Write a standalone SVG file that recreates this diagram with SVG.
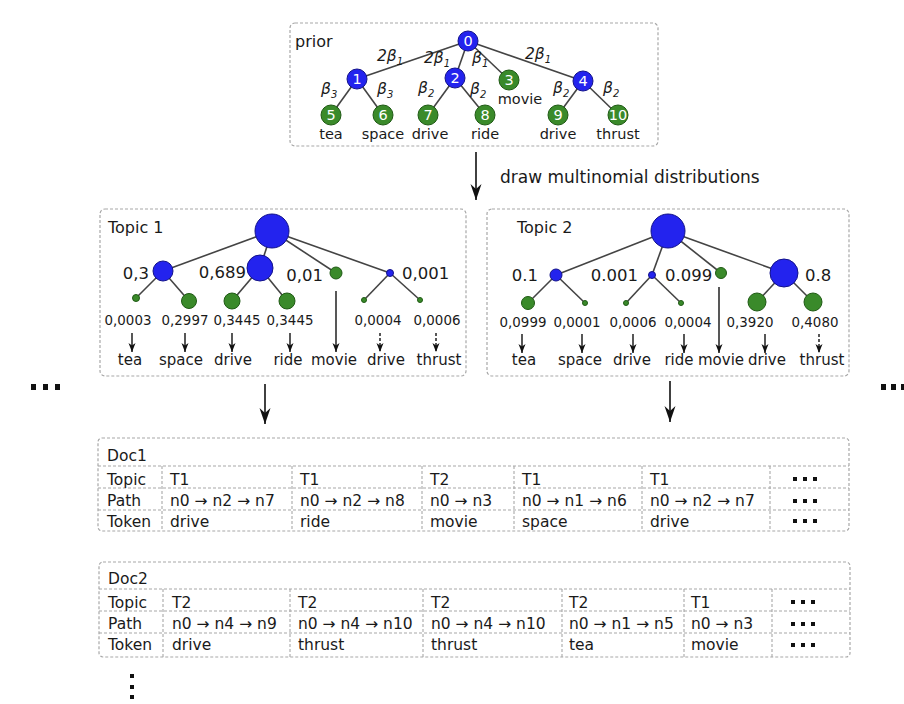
<svg xmlns="http://www.w3.org/2000/svg" width="904" height="704" viewBox="0 0 904 704">
  <defs>
    <style>
      text { font-family: "DejaVu Sans", "Liberation Sans", sans-serif; fill: #1a1a1a; }
      .box { fill: none; stroke: #a8a8a8; stroke-width: 1.2; stroke-dasharray: 3 2; }
      .grid { stroke: #a8a8a8; stroke-width: 1.1; stroke-dasharray: 3 2; fill: none; }
      .edge { stroke: #444; stroke-width: 1.6; fill: none; }
      .blue { fill: #2323ee; stroke: #12128a; stroke-width: 1; }
      .green { fill: #3a8a2a; stroke: #1f5a14; stroke-width: 1; }
      .num { font-size: 14.5px; fill: #fff; text-anchor: middle; }
      .leaf { font-size: 14.5px; text-anchor: middle; }
      .beta { font-size: 15.5px; font-style: italic; }
      .sub { font-size: 10px; }
      .title { font-size: 16px; }
      .w { font-size: 15px; text-anchor: middle; }
      .p { font-size: 13.4px; text-anchor: middle; }
      .val { font-size: 16.5px; }
      .cell { font-size: 15.5px; }
      .arr { stroke: #111; stroke-width: 1.6; fill: none; }
      .arrs { stroke: #111; stroke-width: 1.4; fill: none; }
      .dash { stroke-dasharray: 3 2; }
      .dot { fill: #111; }
    </style>
    <marker id="head" viewBox="-16 -6 16 12" markerWidth="16" markerHeight="12" refX="0" refY="0" orient="auto" markerUnits="userSpaceOnUse">
      <path d="M0,0 L-16,-5.5 L-11,0 L-16,5.5 z" fill="#111"/>
    </marker>
    <marker id="heads" viewBox="-9 -4 9 8" markerWidth="9" markerHeight="8" refX="0" refY="0" orient="auto" markerUnits="userSpaceOnUse">
      <path d="M0,0 L-9,-3.5 L-6.5,0 L-9,3.5 z" fill="#111"/>
    </marker>
  </defs>
  <rect width="904" height="704" fill="#ffffff"/>

  <!-- prior tree -->
  <g id="prior">
    <rect class="box" x="290" y="23" width="368" height="123" rx="5"/>
    <text class="title" x="295" y="47">prior</text>
    <g class="edges">
      <line class="edge" x1="468" y1="41" x2="357" y2="79"/>
      <line class="edge" x1="468" y1="41" x2="455" y2="78"/>
      <line class="edge" x1="468" y1="41" x2="509" y2="80"/>
      <line class="edge" x1="468" y1="41" x2="583" y2="81"/>
      <line class="edge" x1="357" y1="79" x2="331" y2="115"/>
      <line class="edge" x1="357" y1="79" x2="383" y2="115"/>
      <line class="edge" x1="455" y1="78" x2="428" y2="115"/>
      <line class="edge" x1="455" y1="78" x2="485" y2="115"/>
      <line class="edge" x1="583" y1="81" x2="558" y2="115"/>
      <line class="edge" x1="583" y1="81" x2="618" y2="115"/>
    </g>
    <text class="beta" x="377" y="61">2β<tspan class="sub" dy="4">1</tspan></text>
    <text class="beta" x="424" y="63">2β<tspan class="sub" dy="4">1</tspan></text>
    <text class="beta" x="472" y="63">β<tspan class="sub" dy="4">1</tspan></text>
    <text class="beta" x="525" y="59">2β<tspan class="sub" dy="4">1</tspan></text>
    <text class="beta" x="321" y="94">β<tspan class="sub" dy="4">3</tspan></text>
    <text class="beta" x="377" y="94">β<tspan class="sub" dy="4">3</tspan></text>
    <text class="beta" x="418" y="93">β<tspan class="sub" dy="4">2</tspan></text>
    <text class="beta" x="470" y="94">β<tspan class="sub" dy="4">2</tspan></text>
    <text class="beta" x="553" y="93">β<tspan class="sub" dy="4">2</tspan></text>
    <text class="beta" x="603" y="93">β<tspan class="sub" dy="4">2</tspan></text>
    <circle class="blue" cx="468" cy="41" r="10"/><text class="num" x="468" y="46">0</text>
    <circle class="blue" cx="357" cy="79" r="10"/><text class="num" x="357" y="84">1</text>
    <circle class="blue" cx="455" cy="78" r="10"/><text class="num" x="455" y="83">2</text>
    <circle class="green" cx="509" cy="80" r="10"/><text class="num" x="509" y="85">3</text>
    <circle class="blue" cx="583" cy="81" r="10"/><text class="num" x="583" y="86">4</text>
    <circle class="green" cx="331" cy="115" r="10"/><text class="num" x="331" y="120">5</text>
    <circle class="green" cx="383" cy="115" r="10"/><text class="num" x="383" y="120">6</text>
    <circle class="green" cx="428" cy="115" r="10"/><text class="num" x="428" y="120">7</text>
    <circle class="green" cx="485" cy="115" r="10"/><text class="num" x="485" y="120">8</text>
    <circle class="green" cx="558" cy="115" r="10"/><text class="num" x="558" y="120">9</text>
    <circle class="green" cx="618" cy="115" r="10"/><text class="num" x="618" y="120">10</text>
    <text class="leaf" x="520" y="104">movie</text>
    <text class="leaf" x="331" y="139">tea</text>
    <text class="leaf" x="383" y="139">space</text>
    <text class="leaf" x="430" y="139">drive</text>
    <text class="leaf" x="485" y="139">ride</text>
    <text class="leaf" x="558" y="139">drive</text>
    <text class="leaf" x="618" y="139">thrust</text>
  </g>

  <!-- topic 1 -->
  <g id="topic1">
    <rect class="box" x="100" y="209" width="366" height="167" rx="5"/>
    <text class="title" x="108" y="233">Topic 1</text>
    <line class="edge" x1="272" y1="231" x2="163" y2="271"/>
    <line class="edge" x1="272" y1="231" x2="260" y2="268"/>
    <line class="edge" x1="272" y1="231" x2="336" y2="273"/>
    <line class="edge" x1="272" y1="231" x2="390" y2="273"/>
    <line class="edge" x1="163" y1="271" x2="136" y2="298"/>
    <line class="edge" x1="163" y1="271" x2="189" y2="301"/>
    <line class="edge" x1="260" y1="268" x2="232" y2="301"/>
    <line class="edge" x1="260" y1="268" x2="287" y2="301"/>
    <line class="edge" x1="390" y1="273" x2="364" y2="300"/>
    <line class="edge" x1="390" y1="273" x2="420" y2="300"/>
    <circle class="blue" cx="272" cy="231" r="17"/>
    <circle class="blue" cx="163" cy="271" r="10"/>
    <circle class="blue" cx="260" cy="268" r="13"/>
    <circle class="green" cx="336" cy="273" r="6"/>
    <circle class="blue" cx="390" cy="273" r="3.5"/>
    <circle class="green" cx="136" cy="298" r="3.5"/>
    <circle class="green" cx="189" cy="301" r="7.5"/>
    <circle class="green" cx="232" cy="301" r="8"/>
    <circle class="green" cx="287" cy="301" r="8"/>
    <circle class="green" cx="364" cy="300" r="2.5"/>
    <circle class="green" cx="420" cy="300" r="2.5"/>
    <text class="val" x="149" y="279" text-anchor="end">0,3</text>
    <text class="val" x="246" y="278" text-anchor="end">0,689</text>
    <text class="val" x="323" y="281" text-anchor="end">0,01</text>
    <text class="val" x="402" y="279">0,001</text>
    <text class="p" x="128" y="325">0,0003</text>
    <text class="p" x="185" y="325">0,2997</text>
    <text class="p" x="237" y="325">0,3445</text>
    <text class="p" x="290" y="325">0,3445</text>
    <text class="p" x="378" y="325">0,0004</text>
    <text class="p" x="437" y="325">0,0006</text>
    <line class="arrs" x1="132" y1="333" x2="132" y2="352" marker-end="url(#heads)"/>
    <line class="arrs" x1="185" y1="333" x2="185" y2="352" marker-end="url(#heads)"/>
    <line class="arrs" x1="232" y1="333" x2="232" y2="352" marker-end="url(#heads)"/>
    <line class="arrs" x1="290" y1="333" x2="290" y2="352" marker-end="url(#heads)"/>
    <line class="arrs" x1="336" y1="291" x2="336" y2="352" marker-end="url(#heads)"/>
    <line class="arrs dash" x1="380" y1="333" x2="380" y2="352" marker-end="url(#heads)"/>
    <line class="arrs dash" x1="436" y1="333" x2="436" y2="352" marker-end="url(#heads)"/>
    <text class="w" x="130" y="365">tea</text>
    <text class="w" x="181" y="365">space</text>
    <text class="w" x="233" y="365">drive</text>
    <text class="w" x="288" y="365">ride</text>
    <text class="w" x="334" y="365">movie</text>
    <text class="w" x="386" y="365">drive</text>
    <text class="w" x="439" y="365">thrust</text>
  </g>

  <!-- topic 2 -->
  <g id="topic2">
    <rect class="box" x="487" y="209" width="362" height="167" rx="5"/>
    <text class="title" x="517" y="233">Topic 2</text>
    <line class="edge" x1="668" y1="231" x2="556" y2="275"/>
    <line class="edge" x1="668" y1="231" x2="652" y2="275"/>
    <line class="edge" x1="668" y1="231" x2="721" y2="273"/>
    <line class="edge" x1="668" y1="231" x2="784" y2="273"/>
    <line class="edge" x1="556" y1="275" x2="528" y2="303"/>
    <line class="edge" x1="556" y1="275" x2="585" y2="303"/>
    <line class="edge" x1="652" y1="275" x2="626" y2="303"/>
    <line class="edge" x1="652" y1="275" x2="681" y2="303"/>
    <line class="edge" x1="784" y1="273" x2="757" y2="302"/>
    <line class="edge" x1="784" y1="273" x2="813" y2="302"/>
    <circle class="blue" cx="668" cy="231" r="17"/>
    <circle class="blue" cx="556" cy="275" r="6"/>
    <circle class="blue" cx="652" cy="275" r="3.5"/>
    <circle class="green" cx="721" cy="273" r="5.5"/>
    <circle class="blue" cx="784" cy="273" r="14"/>
    <circle class="green" cx="528" cy="303" r="6.5"/>
    <circle class="green" cx="585" cy="303" r="2.5"/>
    <circle class="green" cx="626" cy="303" r="2.5"/>
    <circle class="green" cx="681" cy="303" r="2.5"/>
    <circle class="green" cx="757" cy="302" r="9"/>
    <circle class="green" cx="813" cy="302" r="9"/>
    <text class="val" x="538" y="281" text-anchor="end">0.1</text>
    <text class="val" x="638" y="281" text-anchor="end">0.001</text>
    <text class="val" x="665" y="281">0.099</text>
    <text class="val" x="805" y="281">0.8</text>
    <text class="p" x="523" y="327">0,0999</text>
    <text class="p" x="577" y="327">0,0001</text>
    <text class="p" x="633" y="327">0,0006</text>
    <text class="p" x="688" y="327">0,0004</text>
    <text class="p" x="750" y="327">0,3920</text>
    <text class="p" x="815" y="327">0,4080</text>
    <line class="arrs" x1="522" y1="334" x2="522" y2="353" marker-end="url(#heads)"/>
    <line class="arrs" x1="582" y1="334" x2="582" y2="353" marker-end="url(#heads)"/>
    <line class="arrs" x1="633" y1="334" x2="633" y2="353" marker-end="url(#heads)"/>
    <line class="arrs" x1="684" y1="334" x2="684" y2="353" marker-end="url(#heads)"/>
    <line class="arrs" x1="719" y1="287" x2="719" y2="353" marker-end="url(#heads)"/>
    <line class="arrs" x1="765" y1="334" x2="765" y2="353" marker-end="url(#heads)"/>
    <line class="arrs dash" x1="819" y1="334" x2="819" y2="353" marker-end="url(#heads)"/>
    <text class="w" x="524" y="365">tea</text>
    <text class="w" x="580" y="365">space</text>
    <text class="w" x="632" y="365">drive</text>
    <text class="w" x="679" y="365">ride</text>
    <text class="w" x="721" y="365">movie</text>
    <text class="w" x="767" y="365">drive</text>
    <text class="w" x="822" y="365">thrust</text>
  </g>

  <!-- arrows between stages -->
  <g id="connectors">
    <line class="arr" x1="476" y1="152" x2="476" y2="200" marker-end="url(#head)"/>
    <line class="arr" x1="265" y1="384" x2="265" y2="424" marker-end="url(#head)"/>
    <line class="arr" x1="670" y1="381" x2="670" y2="422" marker-end="url(#head)"/>
  </g>
  <text x="500" y="183" font-size="17">draw multinomial distributions</text>

  <!-- side continuation marks -->
  <g id="more-topics">
    <rect class="dot" x="31" y="384" width="5" height="6"/>
    <rect class="dot" x="43" y="384" width="5" height="6"/>
    <rect class="dot" x="55" y="384" width="5" height="6"/>
    <rect class="dot" x="881" y="384" width="5" height="6"/>
    <rect class="dot" x="891" y="384" width="5" height="6"/>
    <rect class="dot" x="901" y="384" width="5" height="6"/>
  </g>

  <!-- document 1 -->
  <g id="doc1">
    <rect class="box" x="98" y="438" width="751" height="93" rx="4"/>
    <text class="cell" x="107" y="461">Doc1</text>
    <path class="grid" d="M98,466 H849 M98,488 H849 M98,510 H849"/>
    <path class="grid" d="M162,466 V531 M292,466 V531 M422,466 V531 M514,466 V531 M642,466 V531 M770,466 V531"/>
    <text class="cell" x="107" y="485">Topic</text>
    <text class="cell" x="107" y="506">Path</text>
    <text class="cell" x="107" y="527">Token</text>
    <text class="cell" x="170" y="485">T1</text>
    <text class="cell" x="300" y="485">T1</text>
    <text class="cell" x="430" y="485">T2</text>
    <text class="cell" x="522" y="485">T1</text>
    <text class="cell" x="650" y="485">T1</text>
    <text class="cell" x="170" y="506">n0 → n2 → n7</text>
    <text class="cell" x="300" y="506">n0 → n2 → n8</text>
    <text class="cell" x="430" y="506">n0 → n3</text>
    <text class="cell" x="522" y="506">n0 → n1 → n6</text>
    <text class="cell" x="650" y="506">n0 → n2 → n7</text>
    <text class="cell" x="170" y="527">drive</text>
    <text class="cell" x="300" y="527">ride</text>
    <text class="cell" x="430" y="527">movie</text>
    <text class="cell" x="522" y="527">space</text>
    <text class="cell" x="650" y="527">drive</text>
    <g class="dot">
      <rect x="793" y="477" width="4" height="4"/><rect x="803" y="477" width="4" height="4"/><rect x="813" y="477" width="4" height="4"/>
      <rect x="793" y="499" width="4" height="4"/><rect x="803" y="499" width="4" height="4"/><rect x="813" y="499" width="4" height="4"/>
      <rect x="793" y="519" width="4" height="4"/><rect x="803" y="519" width="4" height="4"/><rect x="813" y="519" width="4" height="4"/>
    </g>
  </g>

  <!-- document 2 -->
  <g id="doc2">
    <rect class="box" x="99" y="562" width="751" height="95" rx="4"/>
    <text class="cell" x="108" y="584">Doc2</text>
    <path class="grid" d="M99,589 H850 M99,611 H850 M99,633 H850"/>
    <path class="grid" d="M163,589 V657 M290,589 V657 M423,589 V657 M562,589 V657 M684,589 V657 M772,589 V657"/>
    <text class="cell" x="108" y="608">Topic</text>
    <text class="cell" x="108" y="629">Path</text>
    <text class="cell" x="108" y="650">Token</text>
    <text class="cell" x="172" y="608">T2</text>
    <text class="cell" x="298" y="608">T2</text>
    <text class="cell" x="431" y="608">T2</text>
    <text class="cell" x="569" y="608">T2</text>
    <text class="cell" x="691" y="608">T1</text>
    <text class="cell" x="172" y="629">n0 → n4 → n9</text>
    <text class="cell" x="298" y="629">n0 → n4 → n10</text>
    <text class="cell" x="431" y="629">n0 → n4 → n10</text>
    <text class="cell" x="569" y="629">n0 → n1 → n5</text>
    <text class="cell" x="691" y="629">n0 → n3</text>
    <text class="cell" x="172" y="650">drive</text>
    <text class="cell" x="298" y="650">thrust</text>
    <text class="cell" x="431" y="650">thrust</text>
    <text class="cell" x="569" y="650">tea</text>
    <text class="cell" x="691" y="650">movie</text>
    <g class="dot">
      <rect x="791" y="600" width="4" height="4"/><rect x="801" y="600" width="4" height="4"/><rect x="811" y="600" width="4" height="4"/>
      <rect x="791" y="622" width="4" height="4"/><rect x="801" y="622" width="4" height="4"/><rect x="811" y="622" width="4" height="4"/>
      <rect x="791" y="643" width="4" height="4"/><rect x="801" y="643" width="4" height="4"/><rect x="811" y="643" width="4" height="4"/>
    </g>
  </g>

  <!-- more documents -->
  <g id="more-docs" class="dot">
    <rect x="130" y="674" width="4" height="4"/>
    <rect x="130" y="685" width="4" height="4"/>
    <rect x="130" y="695" width="4" height="4"/>
  </g>
</svg>
